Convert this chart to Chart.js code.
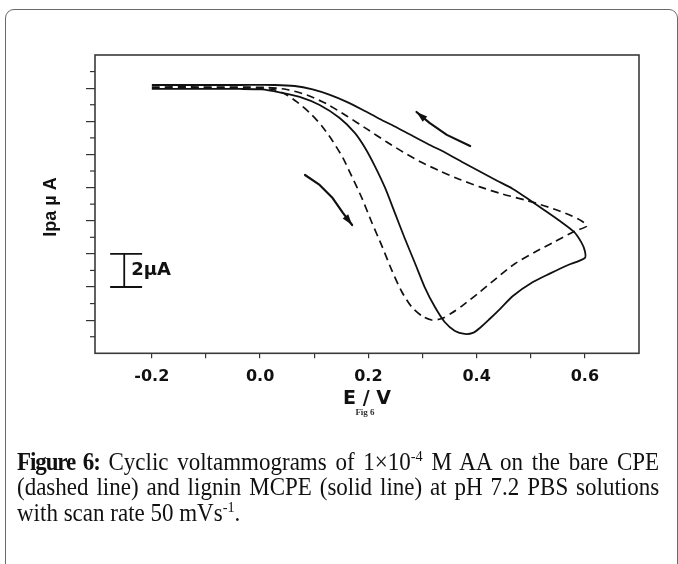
<!DOCTYPE html>
<html>
<head>
<meta charset="utf-8">
<script src="https://cdn.jsdelivr.net/npm/chart.js@4.4.1/dist/chart.umd.min.js"></script>
<style>
  html, body { margin: 0; padding: 0; background: #fff; }
  #wrap { position: relative; width: 678px; height: 564px; overflow: hidden; }
  #box { position: absolute; left: 5px; top: 9px; width: 673px; height: 640px;
         border: 1px solid #6a6a6a; border-radius: 9px; box-sizing: border-box; }
  #cv { position: absolute; left: 0; top: 0; }
  #caption { position: absolute; left: 17px; top: 449px; width: 698px;
             transform: scaleX(0.92); transform-origin: 0 0;
             font-family: 'Liberation Serif', 'Times New Roman', serif; font-size: 25px;
             line-height: 25.3px; color: #111; }
  #caption div { white-space: nowrap; }
  #caption .jl { text-align: justify; text-align-last: justify; }
  #caption b { font-weight: bold; letter-spacing: -1.2px; }
  #caption sup { font-size: 62%; line-height: 0; vertical-align: 0.6em; }
</style>
</head>
<body>
<div id="wrap">
  <div id="box"></div>
  <canvas id="cv" width="678" height="564"></canvas>
  <div id="caption">
    <div class="jl"><b>Figure 6:</b> Cyclic voltammograms of 1×10<sup>-4</sup> M AA on the bare CPE</div>
    <div class="jl">(dashed line) and lignin MCPE (solid line) at pH 7.2 PBS solutions</div>
    <div>with scan rate 50 mVs<sup>-1</sup>.</div>
  </div>
</div>
<script>
// Lignin MCPE (solid): forward scan -0.2 V -> 0.6 V, then reverse back to -0.2 V
const solidE = [-0.200, -0.111, -0.037, 0.003, 0.036, 0.073, 0.110, 0.147, 0.175, 0.194,
                0.212, 0.231, 0.249, 0.267, 0.286, 0.304, 0.323, 0.341, 0.360, 0.378,
                0.393, 0.406, 0.424, 0.443, 0.467, 0.504, 0.536, 0.567, 0.600,
                0.600, 0.594, 0.580, 0.554, 0.526, 0.498, 0.467, 0.437, 0.406, 0.375,
                0.345, 0.310, 0.277, 0.249, 0.221, 0.190, 0.160, 0.129, 0.097, 0.064,
                0.027, -0.037, -0.200];
const solidI = [15.95, 15.95, 15.95, 15.92, 15.74, 15.47, 14.98, 14.20, 13.30, 12.39,
                11.30, 9.98, 8.47, 6.96, 5.45, 4.00, 2.79, 1.89, 1.35, 1.17,
                1.23, 1.53, 2.07, 2.67, 3.46, 4.30, 4.82, 5.30, 5.75,
                6.17, 6.66, 7.32, 7.98, 8.62, 9.25, 9.92, 10.43, 10.97, 11.51,
                12.06, 12.63, 13.20, 13.69, 14.14, 14.68, 15.17, 15.59, 15.92, 16.13,
                16.19, 16.19, 16.19];

// Bare CPE (dashed)
const dashedE = [-0.200, -0.111, -0.019, 0.024, 0.046, 0.068, 0.092, 0.114, 0.134, 0.153,
                 0.169, 0.188, 0.206, 0.225, 0.243, 0.262, 0.280, 0.299, 0.317, 0.336,
                 0.354, 0.375, 0.406, 0.437, 0.470, 0.508, 0.545, 0.582, 0.604,
                 0.594, 0.576, 0.553, 0.526, 0.493, 0.448, 0.406, 0.369, 0.332, 0.295,
                 0.264, 0.234, 0.197, 0.160, 0.123, 0.086, 0.049, 0.012, -0.111, -0.200];
const dashedI = [16.04, 16.04, 16.01, 15.92, 15.65, 15.17, 14.50, 13.72, 12.81, 11.79,
                 10.70, 9.37, 7.92, 6.48, 5.03, 3.70, 2.80, 2.25, 2.01, 2.10,
                 2.43, 2.91, 3.70, 4.54, 5.39, 6.11, 6.75, 7.38, 7.68,
                 7.98, 8.29, 8.59, 8.89, 9.22, 9.61, 10.04, 10.49, 11.00, 11.58,
                 12.15, 12.75, 13.54, 14.32, 15.05, 15.59, 15.92, 16.04, 16.07, 16.07];

// Axis ticks
const xTicks = [-0.2, -0.1, 0.0, 0.1, 0.2, 0.3, 0.4, 0.5, 0.6];
const xTickLabels = ['-0.2', '', '0.0', '', '0.2', '', '0.4', '', '0.6'];
const yTicks = [1, 2, 3, 4, 5, 6, 7, 8, 9, 10, 11, 12, 13, 14, 15, 16, 17];

// Scan-direction arrows (E in V, current in µA)
const arrowFwdE = [0.083, 0.110, 0.134, 0.153, 0.170];
const arrowFwdI = [10.76, 10.16, 9.37, 8.47, 7.74];
const arrowRevE = [0.289, 0.313, 0.345, 0.388];
const arrowRevI = [14.56, 13.90, 13.18, 12.51];

// 2 µA scale bar
const barE = [-0.277, -0.251, -0.218];   // left end, stem, right end
const barI = [4, 6];
const barLabel = '2µA';

const toXY = (es, is) => es.map((e, i) => ({ x: e, y: is[i] }));

function drawHead(ctx, tip, from, len, half) {
  const ang = Math.atan2(tip.y - from.y, tip.x - from.x);
  ctx.beginPath();
  ctx.moveTo(tip.x, tip.y);
  ctx.lineTo(tip.x - len * Math.cos(ang) + half * Math.sin(ang), tip.y - len * Math.sin(ang) - half * Math.cos(ang));
  ctx.lineTo(tip.x - len * Math.cos(ang) - half * Math.sin(ang), tip.y - len * Math.sin(ang) + half * Math.cos(ang));
  ctx.closePath();
  ctx.fill();
}

const decor = {
  id: 'decor',
  afterDatasetsDraw(chart) {
    const { ctx, chartArea: a, scales: { x, y } } = chart;
    ctx.save();
    // plot frame
    ctx.strokeStyle = '#3a3a3a';
    ctx.lineWidth = 1.6;
    ctx.strokeRect(a.left, a.top, a.right - a.left, a.bottom - a.top);

    // short minor ticks on the left axis
    ctx.strokeStyle = '#333';
    ctx.lineWidth = 1.2;
    yTicks.forEach(v => {
      if (v % 2 === 1) {
        const py = y.getPixelForValue(v);
        ctx.beginPath(); ctx.moveTo(a.left - 5, py); ctx.lineTo(a.left, py); ctx.stroke();
      }
    });

    // scale bar
    ctx.strokeStyle = '#111';
    ctx.lineWidth = 1.8;
    const bl = x.getPixelForValue(barE[0]), bs = x.getPixelForValue(barE[1]), br = x.getPixelForValue(barE[2]);
    const b0 = y.getPixelForValue(barI[0]), b1 = y.getPixelForValue(barI[1]);
    ctx.beginPath();
    ctx.moveTo(bl, b1); ctx.lineTo(br, b1);
    ctx.moveTo(bl, b0); ctx.lineTo(br, b0);
    ctx.moveTo(bs, b0); ctx.lineTo(bs, b1);
    ctx.stroke();
    ctx.fillStyle = '#111';
    ctx.font = 'bold 18px "DejaVu Sans", sans-serif';
    ctx.textAlign = 'left';
    ctx.textBaseline = 'middle';
    ctx.fillText(barLabel, bs + 7, (b0 + b1) / 2);

    // arrows
    const arrow = (es, is, headAtEnd) => {
      const pts = es.map((e, i) => ({ x: x.getPixelForValue(e), y: y.getPixelForValue(is[i]) }));
      ctx.lineWidth = 2.2;
      ctx.lineCap = 'round';
      ctx.lineJoin = 'round';
      ctx.beginPath();
      pts.forEach((p, i) => (i ? ctx.lineTo(p.x, p.y) : ctx.moveTo(p.x, p.y)));
      ctx.stroke();
      if (headAtEnd) drawHead(ctx, pts[pts.length - 1], pts[pts.length - 2], 11, 3.5);
      else drawHead(ctx, pts[0], pts[1], 11, 3.5);
    };
    arrow(arrowFwdE, arrowFwdI, true);
    arrow(arrowRevE, arrowRevI, false);

    // axis titles
    ctx.fillStyle = '#111';
    ctx.textAlign = 'center';
    ctx.textBaseline = 'middle';
    ctx.font = 'bold 19px "DejaVu Sans", sans-serif';
    ctx.fillText('E / V', (a.left + a.right) / 2, 399);
    ctx.font = 'bold 9px "Liberation Serif", serif';
    ctx.fillStyle = '#333';
    ctx.fillText('Fig 6', (a.left + a.right) / 2 - 2, 413);
    ctx.save();
    ctx.translate(51, 207);
    ctx.rotate(-Math.PI / 2);
    ctx.fillStyle = '#111';
    ctx.font = 'bold 18px "Liberation Sans", Arial, sans-serif';
    ctx.fillText('Ipa µ A', 0, 0);
    ctx.restore();
    ctx.restore();
  }
};

new Chart(document.getElementById('cv'), {
  type: 'line',
  data: {
    datasets: [
      { label: 'lignin MCPE', data: toXY(solidE, solidI), borderColor: '#111',
        borderWidth: 1.8, pointRadius: 0, tension: 0.25, fill: false },
      { label: 'bare CPE', data: toXY(dashedE, dashedI), borderColor: '#111',
        borderWidth: 1.7, borderDash: [8, 5], pointRadius: 0, tension: 0.25, fill: false }
    ]
  },
  options: {
    responsive: false,
    animation: false,
    events: [],
    layout: { padding: { left: 0, top: 55, right: 39, bottom: 0 } },
    plugins: { legend: { display: false }, tooltip: { enabled: false } },
    scales: {
      x: {
        type: 'linear', min: -0.305, max: 0.70,
        afterBuildTicks: s => { s.ticks = xTicks.map(v => ({ value: v })); },
        afterFit: s => { s.height = 210.7; },
        border: { display: false },
        grid: { drawOnChartArea: false, drawTicks: true, tickLength: 5, color: '#333', lineWidth: 1.2 },
        ticks: {
          autoSkip: false, maxRotation: 0, padding: 9, color: '#111',
          font: { family: '"DejaVu Sans", sans-serif', size: 16, weight: 'bold' },
          callback: (v, i) => xTickLabels[i]
        }
      },
      y: {
        type: 'linear', min: 0, max: 18,
        afterBuildTicks: s => { s.ticks = yTicks.map(v => ({ value: v })); },
        afterFit: s => { s.width = 95; },
        border: { display: false },
        grid: {
          drawOnChartArea: false, drawTicks: true, tickLength: 9, lineWidth: 1.2,
          color: c => (c.tick && c.tick.value % 2 === 0 ? '#333' : 'rgba(0,0,0,0)')
        },
        ticks: { display: false }
      }
    }
  },
  plugins: [decor]
});
</script>
</body>
</html>
